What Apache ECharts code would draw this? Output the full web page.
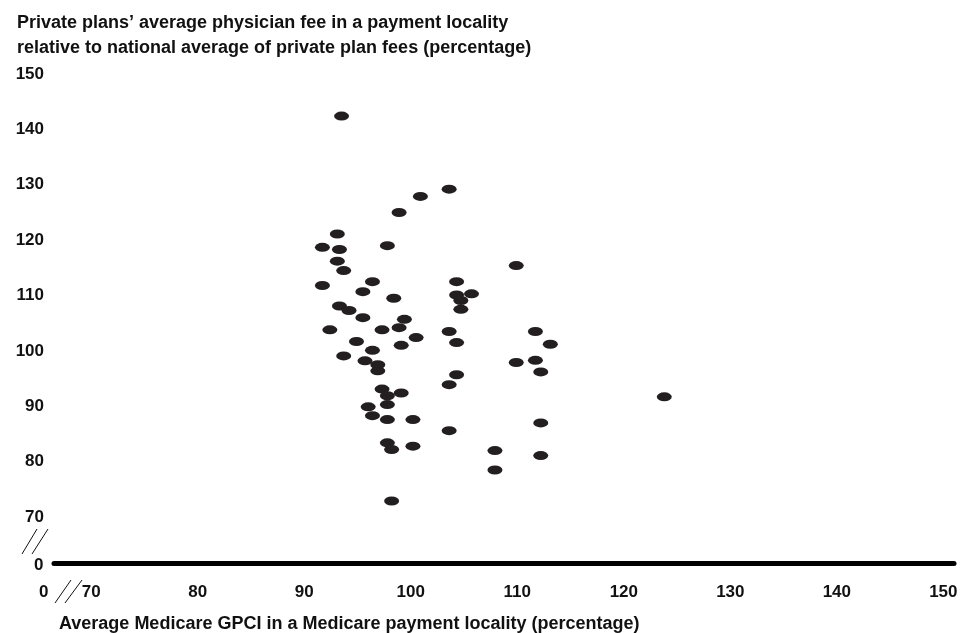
<!DOCTYPE html>
<html>
<head>
<meta charset="utf-8">
<script src="https://cdn.jsdelivr.net/npm/echarts@6/dist/echarts.min.js"></script>
<style>
html,body{margin:0;padding:0;background:#fff;}
#chart{width:966px;height:633px;}
</style>
</head>
<body>
<div id="chart"></div>
<script>
// Data: [Medicare GPCI %, private plan fee %]
var gpci = [93.5,103.6,100.9,98.9,93.1,91.7,93.3,97.8,93.1,93.7,91.7,96.4,95.5,104.3,104.3,105.7,98.4,104.7,104.7,93.3,94.2,95.5,99.4,92.4,97.3,98.9,103.6,94.9,100.5,99.1,104.3,96.4,93.7,95.7,96.9,96.9,104.3,103.6,97.3,97.8,99.1,96.0,97.8,96.4,97.8,100.2,103.6,97.8,98.2,100.2,98.2,109.9,111.7,113.1,109.9,111.7,112.2,123.8,112.2,107.9,112.2,107.9];
var privateFee = [142.4,129.2,127.9,125.0,121.1,118.7,118.3,119.0,116.2,114.5,111.8,112.5,110.7,112.5,110.1,110.3,109.5,109.1,107.5,108.1,107.3,106.0,105.7,103.8,103.8,104.2,103.5,101.7,102.4,101.0,101.5,100.1,99.1,98.2,97.5,96.4,95.7,93.9,93.1,91.9,92.4,89.9,90.3,88.3,87.6,87.6,85.6,83.4,82.2,82.8,72.9,115.4,103.5,101.2,97.9,98.3,96.2,91.7,87.0,82.0,81.1,78.5];
var xTicks = [70,80,90,100,110,120,130,140,150];
var yTicks = [70,80,90,100,110,120,130,140,150];
var yTitleLines = ['Private plans\u2019 average physician fee in a payment locality','relative to national average of private plan fees (percentage)'];
var xTitle = 'Average Medicare GPCI in a Medicare payment locality (percentage)';

var points = gpci.map(function(x, i){ return [x, privateFee[i]]; });
var FONT = '"Liberation Sans", Arial, Helvetica, sans-serif';
var chart = echarts.init(document.getElementById('chart'));
chart.setOption({
  animation: false,
  backgroundColor: '#ffffff',
  title: [{
    text: yTitleLines.join('\n'),
    left: 12, top: 6,
    textStyle: {fontFamily: FONT, fontSize: 18, fontWeight: 'bold', color: '#111', lineHeight: 25}
  },{
    text: xTitle,
    left: 54, top: 608,
    textStyle: {fontFamily: FONT, fontSize: 18, fontWeight: 'bold', color: '#111', lineHeight: 22}
  }],
  grid: {left: 54, right: 12, top: 74, bottom: 70, containLabel: false},
  xAxis: {
    type: 'value', min: 66.5, max: 151,
    axisLine: {show: true, lineStyle: {color: '#000', width: 5}},
    axisTick: {show: false},
    splitLine: {show: false},
    axisLabel: {customValues: xTicks, margin: 21, fontFamily: FONT, fontSize: 17, fontWeight: 'bold', color: '#111'}
  },
  yAxis: {
    type: 'value', min: 61.7, max: 150,
    axisLine: {show: false},
    axisTick: {show: false},
    splitLine: {show: false},
    axisLabel: {customValues: yTicks, margin: 10, fontFamily: FONT, fontSize: 17, fontWeight: 'bold', color: '#111'}
  },
  graphic: [
    {type: 'text', left: 39, top: 584, style: {text: '0', font: 'bold 17px ' + FONT, fill: '#111'}},
    {type: 'text', left: 34, top: 557, style: {text: '0', font: 'bold 17px ' + FONT, fill: '#111'}},
    {type: 'line', shape: {x1: 22, y1: 554, x2: 37, y2: 529}, style: {stroke: '#111', lineWidth: 1}},
    {type: 'line', shape: {x1: 32, y1: 554, x2: 48, y2: 529}, style: {stroke: '#111', lineWidth: 1}},
    {type: 'line', shape: {x1: 55, y1: 603, x2: 71, y2: 580}, style: {stroke: '#111', lineWidth: 1}},
    {type: 'line', shape: {x1: 65, y1: 603, x2: 82, y2: 580}, style: {stroke: '#111', lineWidth: 1}}
  ],
  series: [{
    type: 'scatter',
    data: points,
    symbol: 'circle',
    symbolSize: [15, 9],
    itemStyle: {color: '#231f20', opacity: 1},
    emphasis: {disabled: true}
  }]
});
</script>
</body>
</html>
